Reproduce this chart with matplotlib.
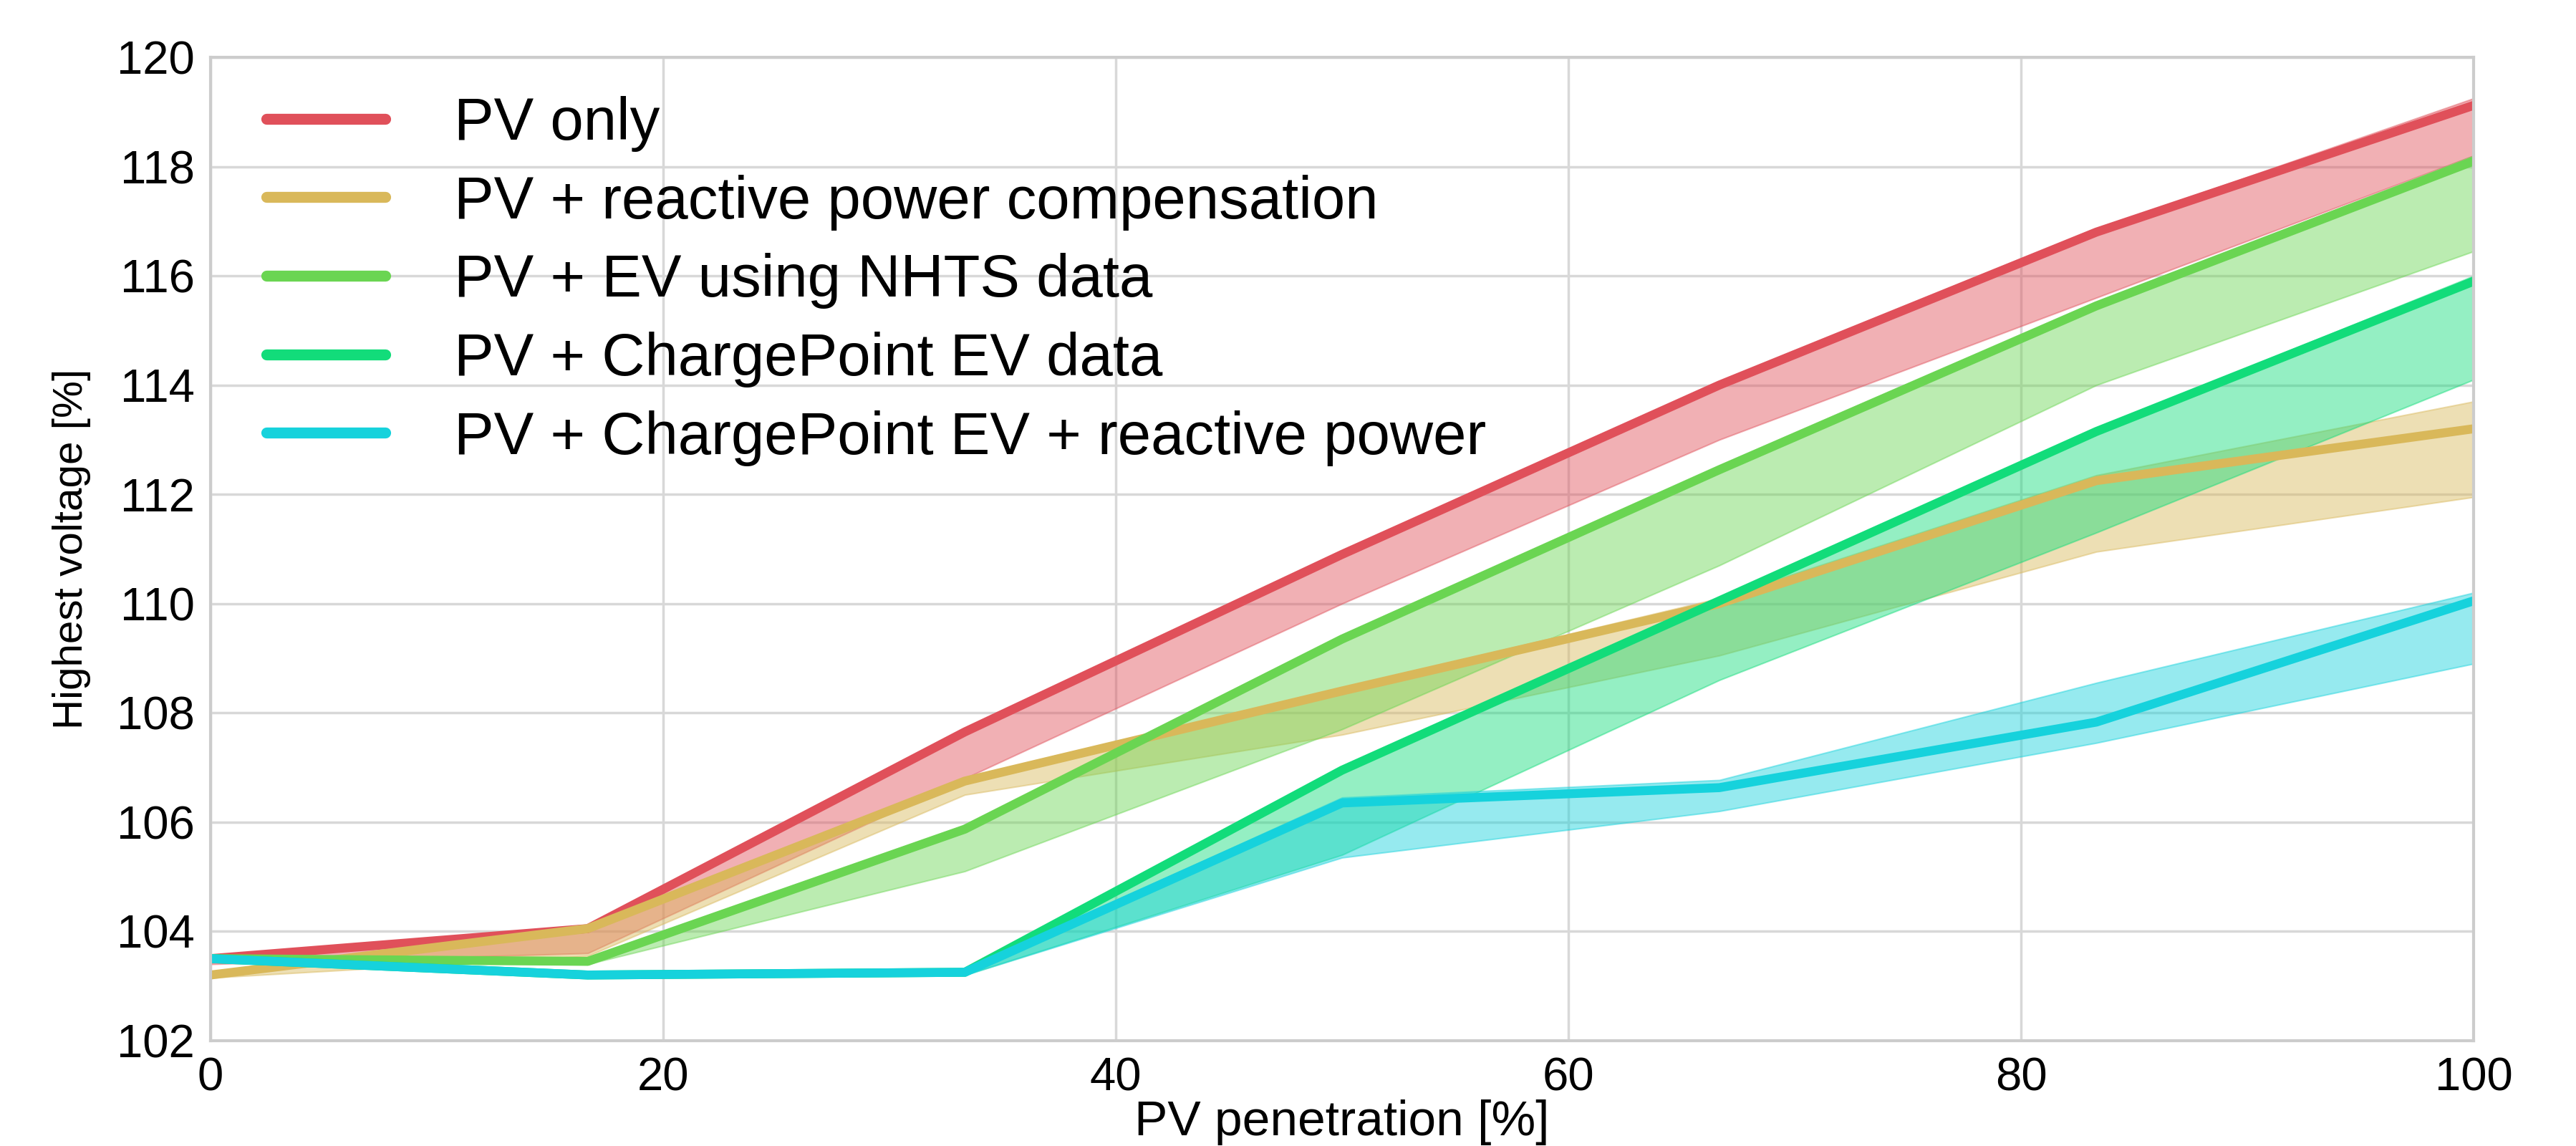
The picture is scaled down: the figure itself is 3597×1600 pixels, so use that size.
import numpy as np
import matplotlib.pyplot as plt

plt.rcParams['font.family'] = ['Liberation Sans', 'DejaVu Sans']

# PV penetration levels [%]
pv_pen = [0, 16.67, 33.33, 50, 66.67, 83.33, 100]

labels = ['PV only',
          'PV + reactive power compensation',
          'PV + EV using NHTS data',
          'PV + ChargePoint EV data',
          'PV + ChargePoint EV + reactive power']
colors = ['#e0505a', '#d9b85a', '#6ad552', '#12dc7a', '#16d2dc']

# highest voltage [%]: line, lower and upper bound of the band
pv_only = [103.5, 104.05, 107.65, 110.9, 114.0, 116.8, 119.12]
pv_only_lo = [103.4, 103.6, 106.8, 110.0, 113.0, 115.6, 118.2]
pv_only_hi = [103.5, 104.1, 107.7, 110.95, 114.05, 116.85, 119.25]

pv_rpc = [103.2, 104.05, 106.75, 108.4, 110.0, 112.25, 113.2]
pv_rpc_lo = [103.15, 103.55, 106.5, 107.6, 109.05, 110.95, 111.95]
pv_rpc_hi = [103.25, 104.1, 106.8, 108.45, 110.1, 112.35, 113.7]

pv_nhts = [103.5, 103.45, 105.87, 109.35, 112.45, 115.45, 118.1]
pv_nhts_lo = [103.45, 103.4, 105.1, 107.7, 110.7, 114.0, 116.45]
pv_nhts_hi = [103.5, 103.5, 105.9, 109.4, 112.5, 115.5, 118.2]

pv_cp = [103.5, 103.2, 103.25, 106.95, 110.05, 113.15, 115.9]
pv_cp_lo = [103.45, 103.15, 103.2, 105.4, 108.6, 111.3, 114.1]
pv_cp_hi = [103.5, 103.25, 103.3, 107.0, 110.1, 113.2, 116.0]

pv_cp_rp = [103.5, 103.2, 103.25, 106.35, 106.63, 107.83, 110.05]
pv_cp_rp_lo = [103.45, 103.15, 103.2, 105.35, 106.2, 107.45, 108.9]
pv_cp_rp_hi = [103.55, 103.25, 103.3, 106.45, 106.77, 108.55, 110.2]

series = [(pv_only, pv_only_lo, pv_only_hi),
          (pv_rpc, pv_rpc_lo, pv_rpc_hi),
          (pv_nhts, pv_nhts_lo, pv_nhts_hi),
          (pv_cp, pv_cp_lo, pv_cp_hi),
          (pv_cp_rp, pv_cp_rp_lo, pv_cp_rp_hi)]

fig = plt.figure(figsize=(35.98, 16), dpi=100)
ax = fig.add_axes([0.0817, 0.092, 0.8783, 0.858])

for (mid, lo, hi), c, lab in zip(series, colors, labels):
    ax.fill_between(pv_pen, lo, hi, color=c, alpha=0.45, lw=1.5)
    ax.plot(pv_pen, mid, color=c, lw=9, label=lab, solid_capstyle='round')

ax.set_xlim(0, 100)
ax.set_ylim(102, 120)
ax.set_xticks(np.arange(0, 101, 20))
ax.set_yticks(np.arange(102, 121, 2))
ax.grid(True, color='#d8d8d8', lw=2.5)
ax.set_axisbelow(True)
for s in ax.spines.values():
    s.set_color('#cccccc')
    s.set_linewidth(3)
ax.tick_params(length=0, pad=16, labelsize=47, colors='black')

ax.set_xlabel('PV penetration [%]', fontsize=50, labelpad=0)
ax.set_ylabel('Highest voltage [%]', fontsize=42, labelpad=26)

leg = ax.legend(loc='upper left', fontsize=60, frameon=False,
                handlelength=2.0, handletextpad=1.15, labelspacing=0.38,
                borderaxespad=0.0, bbox_to_anchor=(0.014, 0.985))
for h in leg.get_lines():
    h.set_linewidth(11)

fig.savefig('out.png', dpi=100, facecolor='white')
